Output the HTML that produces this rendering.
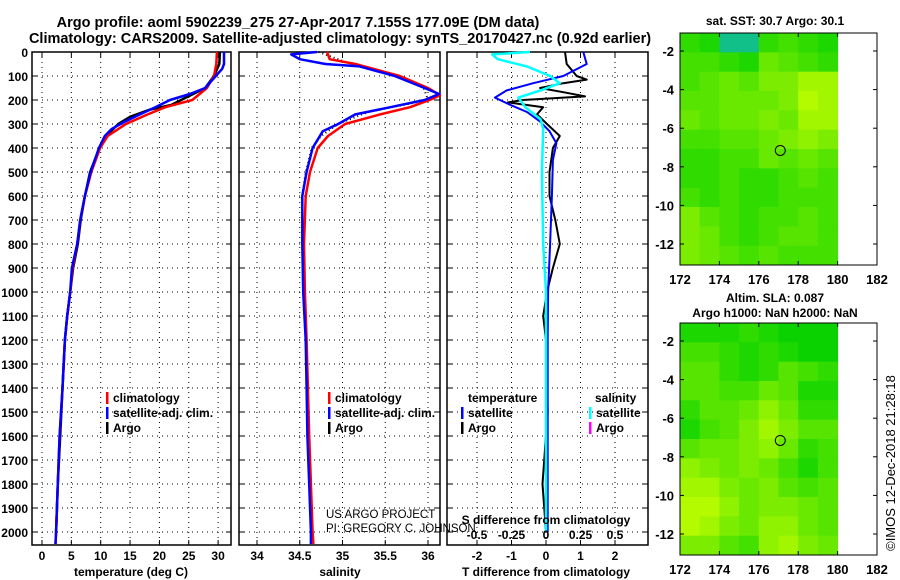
<!DOCTYPE html>
<html><head><meta charset="utf-8"><style>
html,body{margin:0;padding:0;background:#fff;}
svg{display:block;font-family:"Liberation Sans",Arial,sans-serif;}
</style></head><body>
<svg id="chart" width="900" height="580" viewBox="0 0 900 580" xmlns="http://www.w3.org/2000/svg">
<text x="298" y="27" font-size="14.5" font-weight="bold" text-anchor="middle">Argo profile: aoml 5902239_275 27-Apr-2017 7.155S 177.09E (DM data)</text>
<text x="340" y="43" font-size="14.5" font-weight="bold" text-anchor="middle">Climatology: CARS2009. Satellite-adjusted climatology: synTS_20170427.nc (0.92d earlier)</text>
</svg>
<script>
// ---- data ----
const depthTicks = [0,100,200,300,400,500,600,700,800,900,1000,1100,1200,1300,1400,1500,1600,1700,1800,1900,2000];
const tempTicks = [0,5,10,15,20,25,30];
const salTicks = [34,34.5,35,35.5,36];
const salTickLabels = ["34","34.5","35","35.5","36"];
const tdiffTicks = [-2,-1,0,1,2];
const sdiffTicks = [-0.5,-0.25,0,0.25,0.5];
const sdiffTickLabels = ["-0.5","-0.25","0","0.25","0.5"];

const tempClimDepth = [0,50,100,150,200,230,260,300,350,400,500,600,700,800,900,1000,1100,1200,1400,1600,1800,2000,2050];
const tempClim = [29.8,29.7,29.3,28.1,25.6,21.0,18.0,14.3,11.2,9.9,8.4,7.3,6.5,6.0,5.2,4.8,4.3,3.9,3.5,3.0,2.7,2.4,2.3];
const tempSatDepth = [0,50,70,100,150,175,200,230,260,290,320,350,400,500,600,700,800,900,1000,1100,1200,1400,1600,1800,2000,2050];
const tempSat = [31.0,31.0,30.7,29.6,27.8,25.2,21.8,19.3,16.7,14.1,11.9,10.7,9.7,8.3,7.3,6.5,6.0,5.1,4.8,4.3,3.9,3.5,3.0,2.7,2.4,2.3];
const tempArgoDepth = [0,50,100,150,200,220,240,270,300,350,400,500,600,700,800,900,1000,1100,1200,1400,1600,1800,2000];
const tempArgo = [30.3,30.2,29.3,27.8,23.7,22.1,18.4,15.0,13.0,10.9,9.8,8.2,7.3,6.6,6.1,5.3,4.8,4.3,3.9,3.5,3.1,2.7,2.4];

const salClimDepth = [0,30,50,100,150,180,200,230,260,300,350,400,500,600,800,1000,1200,1600,2000,2050];
const salClim = [34.82,34.85,35.15,35.67,36.0,36.14,36.02,35.79,35.44,35.03,34.83,34.71,34.62,34.57,34.55,34.56,34.58,34.61,34.65,34.66];
const salSatDepth = [0,10,30,50,60,100,150,175,200,230,260,300,330,400,500,600,800,1000,1200,1400,1600,1800,2000,2050];
const salSat = [34.70,34.40,34.50,34.80,35.20,35.61,35.96,36.13,35.96,35.56,35.15,34.95,34.77,34.65,34.58,34.53,34.53,34.54,34.57,34.58,34.59,34.61,34.63,34.63];
const salArgoDepth = [0,50,100,150,200,250,300,350,400,500,600,800,1000,1200,1600,2000];
const salArgo = [34.72,35.1,35.65,35.95,36.0,35.3,34.95,34.75,34.64,34.57,34.53,34.53,34.54,34.57,34.60,34.64];

const tdiffArgoDepth = [0,50,100,115,130,150,170,185,200,210,230,260,300,350,400,500,600,700,800,900,1000,1100,1200,1500,1800,2000];
const tdiffArgo = [0.55,0.6,0.89,1.18,0.5,-0.17,0.6,1.13,-0.67,-1.1,-0.08,-0.26,0.03,0.4,0.2,0.1,0.1,0.27,0.4,0.2,0.03,-0.08,0.0,0.05,-0.1,0.0];
const tdiffSatDepth = [0,50,100,130,160,190,220,250,290,330,380,450,600,800,1000,1200,1600,2000];
const tdiffSat = [1.08,1.18,0.5,-0.37,-1.14,-1.48,-1.04,-0.55,-0.17,0.1,0.3,0.2,0.17,0.12,0.06,0.05,0.05,0.05];
const sdiffSatDepth = [0,10,30,60,100,130,160,190,230,280,320,500,800,1000,1500,2000];
const sdiffSat = [-0.116,-0.39,-0.35,-0.14,0.03,0.1,-0.04,-0.2,-0.15,-0.04,-0.02,-0.03,-0.02,0.0,0.0,0.0];

const sstGrid = [
[0.2,0.1,-0.5,-0.5,0.2,0.3,0.2,0.1],
[0.3,0.3,0.2,0.1,0.5,0.4,0.3,0.2],
[0.3,0.4,0.5,0.4,0.6,0.6,0.8,0.8],
[0.4,0.4,0.5,0.5,0.5,0.6,0.9,0.8],
[0.5,0.4,0.5,0.5,0.6,0.5,0.8,0.8],
[0.3,0.3,0.4,0.4,0.5,0.6,0.7,0.6],
[0.2,0.2,0.3,0.3,0.5,0.4,0.5,0.4],
[0.2,0.2,0.3,0.2,0.2,0.3,0.4,0.3],
[0.3,0.2,0.3,0.2,0.2,0.3,0.3,0.3],
[0.6,0.4,0.3,0.2,0.3,0.3,0.4,0.3],
[0.6,0.5,0.3,0.2,0.3,0.4,0.4,0.3],
[0.6,0.5,0.4,0.3,0.4,0.3,0.3,0.3]];
const slaGrid = [
[0.1,0.1,0.1,0.2,0.1,0.0,0.0,0.0],
[0.3,0.3,0.2,0.1,0.2,0.1,0.0,0.0],
[0.4,0.4,0.2,0.1,0.2,0.4,0.3,0.2],
[0.4,0.4,0.3,0.3,0.5,0.4,0.1,0.1],
[0.2,0.4,0.4,0.5,0.7,0.5,0.2,0.2],
[0.1,0.3,0.4,0.6,0.8,0.6,0.4,0.4],
[0.4,0.5,0.5,0.6,0.7,0.5,0.2,0.3],
[0.7,0.6,0.5,0.6,0.5,0.3,0.1,0.3],
[0.8,0.8,0.6,0.5,0.6,0.4,0.3,0.4],
[0.9,0.9,0.7,0.5,0.6,0.6,0.5,0.4],
[0.9,0.8,0.6,0.5,0.7,0.7,0.5,0.4],
[0.6,0.6,0.4,0.3,0.7,0.8,0.6,0.5]];
const lonTicks = [172,174,176,178,180,182];
const latTicks = [-2,-4,-6,-8,-10,-12];
const profileLon = [177.09];
const profileLat = [-7.155];

// ---- drawing ----
const NS = "http://www.w3.org/2000/svg";
const svg = document.getElementById('chart');
function mk(tag, attrs, parent) {
  const e = document.createElementNS(NS, tag);
  for (const k in attrs) e.setAttribute(k, attrs[k]);
  (parent || svg).appendChild(e);
  return e;
}
function txt(s, attrs, parent) { const e = mk('text', attrs, parent); e.textContent = s; return e; }

const TOP = 52, BOT = 545;
const yD = d => TOP + d * 0.24;
const xT = t => 42 + t * 5.87;
const xS = s => 257 + (s - 34) * 85.5;
const xTd = v => 546 + v * 34.5;
const xSd = v => 546 + v * 138;
const panels = [{x0:32,x1:231},{x0:239,x1:440},{x0:447,x1:648}];

depthTicks.forEach(d => {
  const t = txt(String(d), {x: 28, y: yD(d) + 5, 'font-size': 12, 'font-weight': 'bold', 'text-anchor': 'end'});
  
  
});

function panelFrame(p, name) {
  const g = mk('g', {});
  
  
  mk('rect', {x: p.x0, y: TOP, width: p.x1 - p.x0, height: BOT - TOP, fill: 'none', stroke: '#000', 'stroke-width': 1.5}, g);
  depthTicks.forEach(d => {
    mk('line', {x1: p.x0, x2: p.x1, y1: yD(d), y2: yD(d), stroke: '#000', 'stroke-width': 1, 'stroke-dasharray': '1,4'}, g);
    mk('line', {x1: p.x0, x2: p.x0 + 5, y1: yD(d), y2: yD(d), stroke: '#000'}, g);
    mk('line', {x1: p.x1, x2: p.x1 - 5, y1: yD(d), y2: yD(d), stroke: '#000'}, g);
  });
  return g;
}
function vgrid(g, xs) {
  xs.forEach(x => {
    mk('line', {x1: x, x2: x, y1: TOP, y2: BOT, stroke: '#000', 'stroke-width': 1, 'stroke-dasharray': '1,4'}, g);
    mk('line', {x1: x, x2: x, y1: TOP, y2: TOP + 5, stroke: '#000'}, g);
    mk('line', {x1: x, x2: x, y1: BOT, y2: BOT - 5, stroke: '#000'}, g);
  });
}
function line(g, depths, vals, xf, color, w, name, dash) {
  const pts = depths.map((d, i) => xf(vals[i]).toFixed(1) + ',' + yD(d).toFixed(1)).join(' ');
  const attrs = {points: pts, fill: 'none', stroke: color, 'stroke-width': w, 'stroke-linejoin': 'round'};
  if (dash) attrs['stroke-dasharray'] = dash;
  const e = mk('polyline', attrs, g);
  
  
  return e;
}
function legend(g, x, y, items) {
  items.forEach((it, i) => {
    mk('rect', {x: x, y: y + i * 15 - 10, width: 2.5, height: 12, fill: it[1]}, g);
    const t = txt(it[0], {x: x + 7, y: y + i * 15, 'font-size': 12, 'font-weight': 'bold'}, g);
    
    
  });
}

const g1 = panelFrame(panels[0], 'temperature-panel');
vgrid(g1, tempTicks.map(xT));
line(g1, tempArgoDepth, tempArgo, xT, '#000', 2.5, 'temp-argo-line');
line(g1, tempClimDepth, tempClim, xT, '#f00', 2.5, 'temp-climatology-line');
line(g1, tempSatDepth, tempSat, xT, '#00f', 2.5, 'temp-satellite-line');
tempTicks.forEach(t => {
  const e = txt(String(t), {x: xT(t), y: 560, 'font-size': 12, 'font-weight': 'bold', 'text-anchor': 'middle'}, g1);
  
  
});
txt('temperature (deg C)', {x: 131, y: 576, 'font-size': 12, 'font-weight': 'bold', 'text-anchor': 'middle'}, g1);
legend(g1, 106, 402, [['climatology', '#f00'], ['satellite-adj. clim.', '#00f'], ['Argo', '#000']]);

const g2 = panelFrame(panels[1], 'salinity-panel');
vgrid(g2, salTicks.map(xS));
line(g2, salArgoDepth, salArgo, xS, '#000', 2, 'salinity-argo-line', '1,3');
line(g2, salClimDepth, salClim, xS, '#f00', 2.5, 'salinity-climatology-line');
line(g2, salSatDepth, salSat, xS, '#00f', 2.5, 'salinity-satellite-line');
salTicks.forEach((s, i) => {
  const e = txt(salTickLabels[i], {x: xS(s), y: 560, 'font-size': 12, 'font-weight': 'bold', 'text-anchor': 'middle'}, g2);
  
  
});
txt('salinity', {x: 340, y: 576, 'font-size': 12, 'font-weight': 'bold', 'text-anchor': 'middle'}, g2);
legend(g2, 328, 402, [['climatology', '#f00'], ['satellite-adj. clim.', '#00f'], ['Argo', '#000']]);
const cr1 = txt('US ARGO PROJECT', {x: 326, y: 518, 'font-size': 11.5}, g2);


const cr2 = txt('PI: GREGORY C. JOHNSON', {x: 326, y: 532, 'font-size': 11.5}, g2);



const g3 = panelFrame(panels[2], 'difference-panel');
vgrid(g3, tdiffTicks.map(xTd));
line(g3, tdiffArgoDepth, tdiffArgo, xTd, '#000', 2, 'tdiff-argo-line');
line(g3, tdiffSatDepth, tdiffSat, xTd, '#00f', 2, 'tdiff-satellite-line');
line(g3, sdiffSatDepth, sdiffSat, xSd, '#0ff', 2.5, 'sdiff-satellite-line');
tdiffTicks.forEach(v => {
  const e = txt(String(v), {x: xTd(v), y: 560, 'font-size': 12, 'font-weight': 'bold', 'text-anchor': 'middle'}, g3);
  
  
});
sdiffTicks.forEach((v, i) => {
  const e = txt(sdiffTickLabels[i], {x: xSd(v), y: 539, 'font-size': 12, 'font-weight': 'bold', 'text-anchor': 'middle'}, g3);
  
  
});
txt('S difference from climatology', {x: 546, y: 524, 'font-size': 12, 'font-weight': 'bold', 'text-anchor': 'middle'}, g3);
txt('T difference from climatology', {x: 546, y: 576, 'font-size': 12, 'font-weight': 'bold', 'text-anchor': 'middle'}, g3);
txt('temperature', {x: 468, y: 402, 'font-size': 12, 'font-weight': 'bold'}, g3);
legend(g3, 461, 417, [['satellite', '#00f'], ['Argo', '#000']]);
txt('salinity', {x: 595, y: 402, 'font-size': 12, 'font-weight': 'bold'}, g3);
legend(g3, 589, 417, [['satellite', '#0ff'], ['Argo', '#f0f']]);

function colorFor(v) {
  if (v < 0) return '#10c088';
  const r = Math.round(10 + v * 190), gch = Math.round(210 + v * 45);
  return 'rgb(' + r + ',' + gch + ',0)';
}
function drawMap(y0, grid, name) {
  const X0 = 680, X1 = 877, H = 232;
  const xL = lon => X0 + (lon - 172) * 19.7;
  const yL = lat => y0 + 18 + (-2 - lat) * 19.3;
  const g = mk('g', {});
  
  
  const cw = (xL(180) - X0) / grid[0].length, ch = H / grid.length;
  grid.forEach((row, r) => row.forEach((v, c) => {
    const cell = mk('rect', {x: X0 + c * cw, y: y0 + r * ch, width: cw + 0.5, height: ch + 0.5, fill: colorFor(v)}, g);
    
    
  }));
  mk('rect', {x: X0, y: y0, width: X1 - X0, height: H, fill: 'none', stroke: '#000', 'stroke-width': 1}, g);
  lonTicks.forEach(l => {
    mk('line', {x1: xL(l), x2: xL(l), y1: y0 + H, y2: y0 + H - 4, stroke: '#000'}, g);
    mk('line', {x1: xL(l), x2: xL(l), y1: y0, y2: y0 + 4, stroke: '#000'}, g);
    const t = txt(String(l), {x: xL(l), y: y0 + H + 19, 'font-size': 13, 'font-weight': 'bold', 'text-anchor': 'middle'}, g);
    
    
  });
  latTicks.forEach(l => {
    mk('line', {x1: X0, x2: X0 + 4, y1: yL(l), y2: yL(l), stroke: '#000'}, g);
    mk('line', {x1: X1, x2: X1 - 4, y1: yL(l), y2: yL(l), stroke: '#000'}, g);
    const t = txt(String(l), {x: X0 - 6, y: yL(l) + 5, 'font-size': 13, 'font-weight': 'bold', 'text-anchor': 'end'}, g);
    
    
  });
  const m = mk('circle', {cx: xL(profileLon[0]), cy: yL(profileLat[0]), r: 5, fill: 'none', stroke: '#000', 'stroke-width': 1}, g);
  
  
  return g;
}
const m1 = drawMap(33, sstGrid, 'sst-map');
txt('sat. SST: 30.7 Argo: 30.1', {x: 775, y: 25, 'font-size': 12, 'font-weight': 'bold', 'text-anchor': 'middle'}, m1);
const m2 = drawMap(323, slaGrid, 'sla-map');
txt('Altim. SLA: 0.087', {x: 775, y: 302, 'font-size': 12, 'font-weight': 'bold', 'text-anchor': 'middle'}, m2);
txt('Argo h1000: NaN h2000: NaN', {x: 775, y: 317, 'font-size': 12, 'font-weight': 'bold', 'text-anchor': 'middle'}, m2);
const stamp = txt('\u00A9IMOS 12-Dec-2018 21:28:18', {x: 0, y: 0, 'font-size': 13, 'text-anchor': 'middle', transform: 'translate(895,463) rotate(-90)'});


</script>
</body></html>
